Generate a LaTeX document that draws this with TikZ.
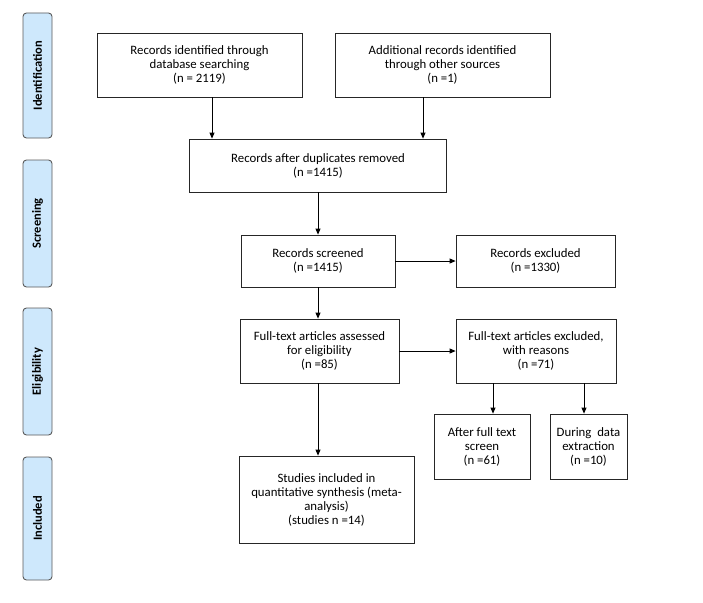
\documentclass[tikz,border=0pt]{standalone}
\usepackage{fontspec}
\setmainfont{Carlito}
\usetikzlibrary{arrows.meta}
\definecolor{phasefill}{RGB}{206,232,252}
\definecolor{phasedraw}{RGB}{90,90,90}
\begin{document}
\begin{tikzpicture}[x=1pt,y=-1pt,
  box/.style={draw=black!85,line width=0.8pt,align=center,inner sep=2pt,
    font=\fontsize{12.8}{14}\selectfont,text=black},
  phase/.style={draw=phasedraw,line width=0.9pt,rounded corners=3.5pt,fill=phasefill,
    rotate=90,font=\fontsize{12.5}{13}\selectfont\bfseries,inner sep=0pt,text=black},
  arr/.style={line width=0.8pt,-{Triangle[length=6pt,width=5pt]}}]
\useasboundingbox (0,0) rectangle (703,602);
% phase labels
\node[phase,minimum width=125pt,minimum height=29pt] (p1) at (37.5,75.5) {Identification};
\node[phase,minimum width=127pt,minimum height=29pt] (p2) at (37.5,223.5) {Screening};
\node[phase,minimum width=127pt,minimum height=29pt] (p3) at (37.5,371.5) {Eligibility};
\node[phase,minimum width=123pt,minimum height=29pt] (p4) at (37.5,518.5) {Included};
% boxes
\node[box,minimum width=205pt,minimum height=64pt] (b1) at (199.5,65)
  {Records identified through\\database searching\\(n = 2119)};
\node[box,minimum width=215pt,minimum height=64pt] (b2) at (442.5,65)
  {Additional records identified\\through other sources\\(n =1)};
\node[box,minimum width=257pt,minimum height=53pt] (b3) at (318,165.5)
  {Records after duplicates removed\\(n =1415)};
\node[box,minimum width=154pt,minimum height=52pt] (b4) at (318,261)
  {Records screened\\(n =1415)};
\node[box,minimum width=159pt,minimum height=52pt] (b5) at (535.5,261)
  {Records excluded\\(n =1330)};
\node[box,minimum width=159pt,minimum height=64pt] (b6) at (319.5,351)
  {Full-text articles assessed\\for eligibility\\(n =85)};
\node[box,minimum width=160pt,minimum height=64pt] (b7) at (536,351)
  {Full-text articles excluded,\\with reasons\\(n =71)};
\node[box,minimum width=96pt,minimum height=65pt] (b8) at (482,446.5)
  {After full text\\screen\\(n =61)};
\node[box,minimum width=77pt,minimum height=65pt] (b9) at (588.5,446.5)
  {During~~data\\extraction\\(n =10)};
\node[box,minimum width=175pt,minimum height=87pt] (b10) at (326.5,499.5)
  {Studies included in\\quantitative synthesis (meta-\\analysis)\\(studies n =14)};
% connectors
\draw[arr] ([xshift=12.5pt]b1.south) -- ([xshift=12.5pt]b1.south |- b3.north);
\draw[arr] ([xshift=-19.5pt]b2.south) -- ([xshift=-19.5pt]b2.south |- b3.north);
\draw[arr] (b3.south) -- (b4.north);
\draw[arr] (b4.east) -- (b5.west);
\draw[arr] (b4.south) -- (b4.south |- b6.north);
\draw[arr] (b6.east) -- (b6.east -| b7.west);
\draw[arr] (b6.south -| b4.south) -- (b4.south |- b10.north);
\draw[arr] ([xshift=11pt]b8.north |- b7.south) -- ([xshift=11pt]b8.north);
\draw[arr] ([xshift=-4.5pt]b9.north |- b7.south) -- ([xshift=-4.5pt]b9.north);
\end{tikzpicture}
\end{document}
